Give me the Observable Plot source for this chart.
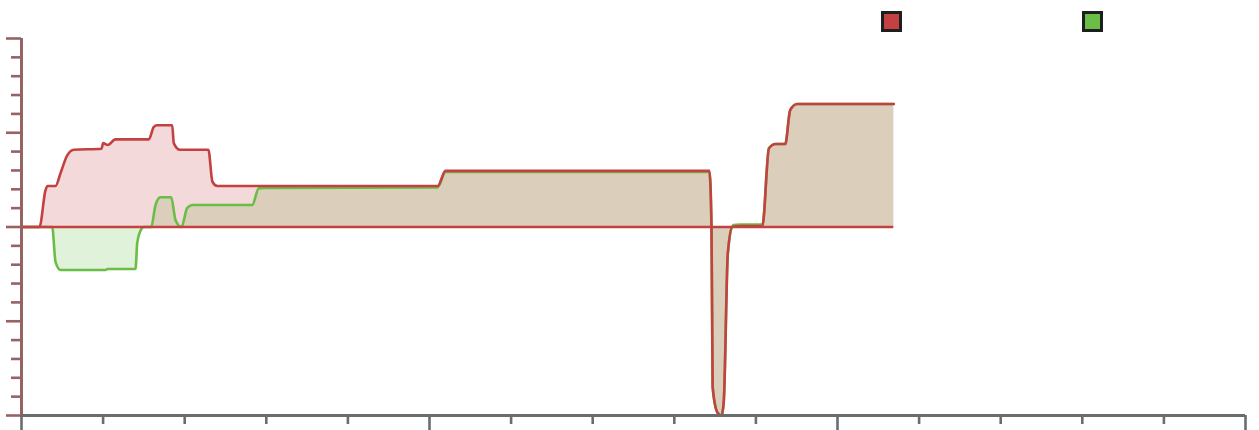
<!DOCTYPE html>
<html>
<head>
<meta charset="utf-8">
<script src="https://cdn.jsdelivr.net/npm/d3@7"></script>
<script src="https://cdn.jsdelivr.net/npm/@observablehq/plot@0.6"></script>
<style>
  html, body { margin: 0; padding: 0; background: #fff; }
  #wrap { position: relative; width: 1259px; height: 430px; }
  .sw { position: absolute; top: 11px; width: 15px; height: 15px; border: 3px solid #1e1e1e; }
  #wrap svg g[aria-label*="tick"] path,
  #wrap svg g[aria-label*="tick"] line { stroke-width: 2.6px !important; }
</style>
</head>
<body>
<div id="wrap">
  <div class="sw" style="left:881px;background:#c34141"></div>
  <div class="sw" style="left:1082px;background:#6abd45"></div>
</div>
<script>
// Series (x in axis units 0..150, y in axis units -2..2)
const redX = [0, 2.2, 2.94, 3.19, 4.17, 4.78, 5.6, 6.41, 9.8, 10.0, 10.58, 11.52, 15.6, 16.2, 16.6, 18.47, 18.66, 19.4, 22.9, 23.4, 24.0, 51.0, 51.96, 84.3, 84.56, 84.7, 85.3, 85.8, 86.07, 86.56, 87.1, 88.1, 90.8, 91.6, 92.4, 93.6, 94.2, 95.06, 106.9];
const redY = [0, 0, 0.39, 0.435, 0.435, 0.57, 0.76, 0.82, 0.83, 0.89, 0.87, 0.93, 0.93, 1.06, 1.08, 1.08, 0.89, 0.82, 0.82, 0.48, 0.435, 0.435, 0.595, 0.595, 0, -1.70, -1.97, -2.0, -1.84, -0.28, 0, 0.01, 0.01, 0.835, 0.88, 0.88, 1.24, 1.305, 1.305];
const greenX = [0, 3.76, 4.17, 4.78, 6.13, 10.3, 10.54, 13.97, 14.18, 14.58, 14.99, 15.9, 16.42, 17.03, 18.35, 18.87, 19.6, 20.3, 20.9, 28.27, 29.08, 29.7, 51.0, 51.96, 84.3, 84.56, 84.7, 85.3, 85.8, 86.07, 86.56, 87.25, 88.1, 90.8, 91.6, 92.4, 93.6, 94.2, 95.06, 106.9];
const greenY = [0, 0, -0.37, -0.456, -0.456, -0.456, -0.446, -0.446, -0.17, -0.04, 0, 0, 0.233, 0.315, 0.315, 0.074, 0, 0.2, 0.233, 0.233, 0.41, 0.414, 0.42, 0.584, 0.584, 0, -1.70, -1.97, -2.0, -1.84, -0.28, 0.02, 0.027, 0.027, 0.835, 0.88, 0.88, 1.24, 1.305, 1.305];

const xMajorTicks = [0, 50, 100, 150];
const xMinorTicks = d3.range(0, 151, 10).filter(d => d % 50 !== 0);
const yMajorTicks = [-2, -1, 0, 1, 2];
const yMinorTicks = d3.range(-20, 21, 2).map(d => d / 10).filter(d => !Number.isInteger(d));

const red = redX.map((x, i) => ({x, y: redY[i]}));
const green = greenX.map((x, i) => ({x, y: greenY[i]}));

const RED = "#c34141", GREEN = "#6abd45";
const YAX = "#976262", XAX = "#6a6d6d";
const curve = "monotone-x";
const blank = () => "";

const chart = Plot.plot({
  width: 1259,
  height: 430,
  marginTop: 38,
  marginBottom: 15,
  marginLeft: 21,
  marginRight: 14,
  x: {domain: [0, 150], axis: null},
  y: {domain: [-2, 2], axis: null},
  style: {background: "#fff"},
  marks: [
    Plot.areaY(green, {x: "x", y: "y", fill: GREEN, fillOpacity: 0.2, curve}),
    Plot.areaY(red, {x: "x", y: "y", fill: RED, fillOpacity: 0.2, curve}),
    Plot.lineY(green, {x: "x", y: "y", stroke: GREEN, strokeWidth: 2.6, curve}),
    Plot.lineY(red, {x: "x", y: "y", stroke: RED, strokeWidth: 2.6, curve}),
    Plot.ruleY([0], {x1: redX[0], x2: redX[redX.length - 1], stroke: RED, strokeWidth: 2.6}),
    // y axis
    Plot.axisY({ticks: yMajorTicks, tickSize: 15, tickFormat: blank, label: null, stroke: YAX, strokeWidth: 2.6}),
    Plot.axisY({ticks: yMinorTicks, tickSize: 10, tickFormat: blank, label: null, stroke: YAX, strokeWidth: 2.6}),
    Plot.ruleX([0], {stroke: YAX, strokeWidth: 3}),
    // x axis
    Plot.axisX({ticks: xMajorTicks, tickSize: 15, tickFormat: blank, label: null, stroke: XAX, strokeWidth: 2.6}),
    Plot.axisX({ticks: xMinorTicks, tickSize: 9, tickFormat: blank, label: null, stroke: XAX, strokeWidth: 2.6}),
    Plot.ruleY([-2], {stroke: XAX, strokeWidth: 3})
  ]
});
chart.style.position = "absolute";
chart.style.left = "0";
chart.style.top = "0";
document.getElementById("wrap").prepend(chart);
</script>
</body>
</html>
